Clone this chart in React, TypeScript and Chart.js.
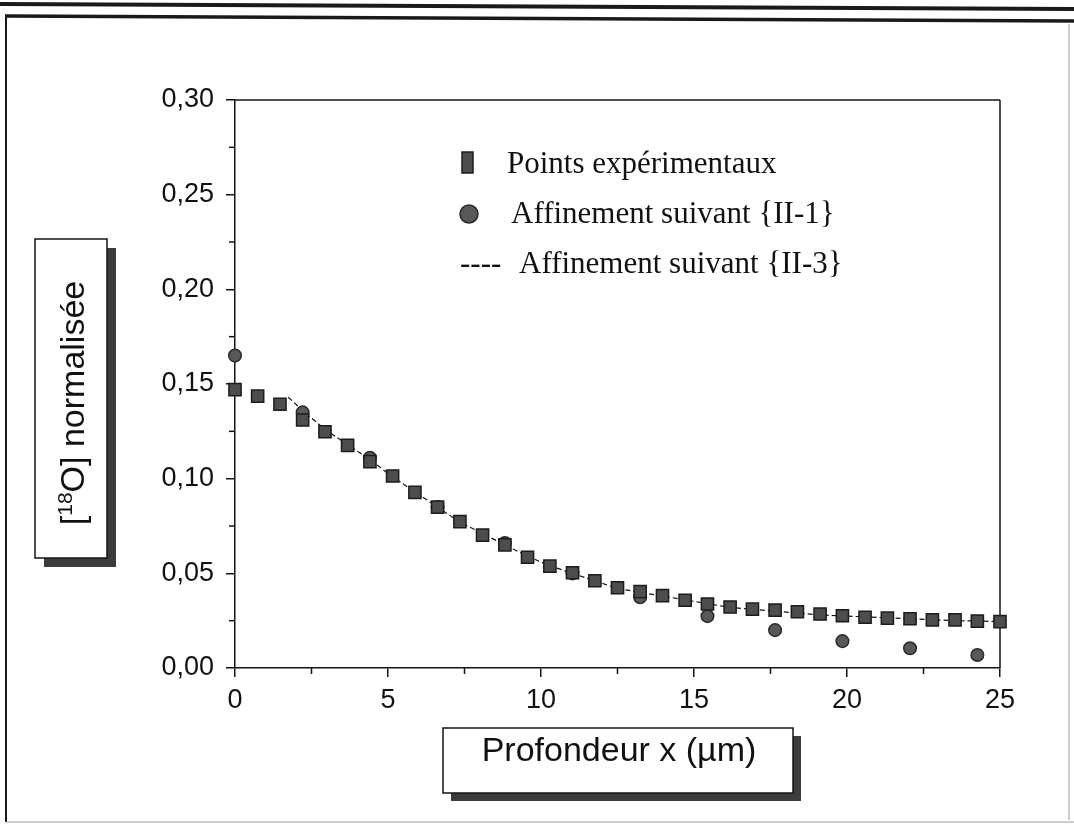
import React, { useEffect, useRef } from "react";
import { Chart, registerables } from "chart.js";

Chart.register(...registerables);

// ---------- data ----------
const depthExp = [
  0, 0.74, 1.47, 2.21, 2.94, 3.68, 4.41, 5.15, 5.88, 6.62, 7.35, 8.09, 8.82,
  9.56, 10.29, 11.03, 11.76, 12.5, 13.24, 13.97, 14.71, 15.44, 16.18, 16.91,
  17.65, 18.38, 19.12, 19.85, 20.59, 21.32, 22.06, 22.79, 23.53, 24.26, 25.0,
];
const expValues = [
  0.147, 0.1436, 0.1393, 0.131, 0.1248, 0.1176, 0.109, 0.1014, 0.0928, 0.085,
  0.0773, 0.0702, 0.065, 0.0585, 0.0538, 0.0503, 0.0461, 0.0424, 0.0403,
  0.0382, 0.0358, 0.0338, 0.0322, 0.0311, 0.0306, 0.0297, 0.0285, 0.0276,
  0.0268, 0.0263, 0.026, 0.0254, 0.0254, 0.0248, 0.0245,
];

const depthFit1 = [0, 2.21, 4.41, 6.62, 8.82, 11.03, 13.24, 15.44, 17.65, 19.85, 22.06, 24.26];
const fit1Values = [0.165, 0.135, 0.111, 0.085, 0.066, 0.05, 0.0374, 0.0274, 0.02, 0.0142, 0.0104, 0.0069];

const depthFit3 = [
  1.74, 2.21, 2.94, 3.68, 4.41, 5.15, 5.88, 6.62, 7.35, 8.09, 8.82, 9.56,
  10.29, 11.03, 11.76, 12.5, 13.24, 13.97, 14.71, 15.44, 16.18, 16.91, 17.65,
  18.38, 19.12, 19.85, 20.59, 21.32, 22.06, 22.79, 23.53, 24.26, 25.0,
];
const fit3Values = [
  0.143, 0.136, 0.126, 0.118, 0.11, 0.101, 0.093, 0.085, 0.077, 0.071, 0.065,
  0.059, 0.054, 0.05, 0.046, 0.042, 0.04, 0.038, 0.036, 0.034, 0.032, 0.031,
  0.03, 0.029, 0.028, 0.0275, 0.027, 0.0265, 0.026, 0.0255, 0.025, 0.0248,
  0.0245,
];

const xMinorTicks = [2.5, 7.5, 12.5, 17.5, 22.5];
const yMinorTicks = [0.025, 0.075, 0.125, 0.175, 0.225, 0.275];

const legendLabels = [
  "Points expérimentaux",
  "Affinement suivant {II-1}",
  "Affinement suivant {II-3}",
];
const xTitle = "Profondeur x (µm)";
const yTitleParts = ["[", "18", "O] normalisée"];

// ---------- styles ----------
const INK = "#141414";
const SQ_FILL = "#4d4d4d";
const SQ_BORDER = "#1c1c1c";
const CI_FILL = "#585858";
const CI_BORDER = "#2a2a2a";
const SHADOW = "#3c3c3c";

function line(ctx: CanvasRenderingContext2D, x1: number, y1: number, x2: number, y2: number) {
  ctx.beginPath();
  ctx.moveTo(x1, y1);
  ctx.lineTo(x2, y2);
  ctx.stroke();
}

function shadowBox(ctx: CanvasRenderingContext2D, x: number, y: number, w: number, h: number, off: number) {
  ctx.fillStyle = SHADOW;
  ctx.fillRect(x + off, y + off, w, h);
  ctx.fillStyle = "#fff";
  ctx.fillRect(x, y, w, h);
  ctx.strokeStyle = INK;
  ctx.lineWidth = 1.5;
  ctx.strokeRect(x, y, w, h);
}

const decorPlugin = {
  id: "decor",
  beforeDraw(chart: any) {
    const ctx: CanvasRenderingContext2D = chart.ctx;
    ctx.save();
    ctx.fillStyle = "#fff";
    ctx.fillRect(0, 0, chart.width, chart.height);
    ctx.strokeStyle = "#1a1a1a";
    ctx.lineWidth = 4;
    line(ctx, 0, 4, 1074, 9);
    ctx.lineWidth = 3.5;
    line(ctx, 5, 16, 1074, 21);
    ctx.lineWidth = 2;
    line(ctx, 6, 16, 6, 822);
    ctx.strokeStyle = "#9a9a9a";
    ctx.lineWidth = 1;
    line(ctx, 6, 822, 1074, 822);
    line(ctx, 1069, 24, 1069, 820);
    ctx.restore();
  },
  beforeDatasetsDraw(chart: any) {
    const ctx: CanvasRenderingContext2D = chart.ctx;
    const { left, top, right, bottom } = chart.chartArea;
    const xs = chart.scales.x;
    const ys = chart.scales.y;
    ctx.save();
    ctx.strokeStyle = INK;
    ctx.lineWidth = 1.5;
    line(ctx, left, top, right, top);
    line(ctx, right, top, right, bottom);
    for (const v of xMinorTicks) {
      const px = xs.getPixelForValue(v);
      line(ctx, px, bottom, px, bottom + 6);
    }
    for (const v of yMinorTicks) {
      const py = ys.getPixelForValue(v);
      line(ctx, left - 6, py, left, py);
    }
    ctx.restore();
  },
  afterDraw(chart: any) {
    const ctx: CanvasRenderingContext2D = chart.ctx;
    ctx.save();

    // legend
    ctx.font = "31px 'Liberation Serif', 'Times New Roman', serif";
    ctx.fillStyle = "#111";
    ctx.textBaseline = "alphabetic";
    ctx.textAlign = "left";
    // row 1: square marker
    ctx.fillStyle = SQ_FILL;
    ctx.fillRect(462, 152, 11, 21);
    ctx.strokeStyle = SQ_BORDER;
    ctx.lineWidth = 1.5;
    ctx.strokeRect(462, 152, 11, 21);
    ctx.fillStyle = "#111";
    ctx.fillText(legendLabels[0], 507, 173);
    // row 2: circle marker
    ctx.beginPath();
    ctx.arc(469, 214, 9, 0, Math.PI * 2);
    ctx.fillStyle = CI_FILL;
    ctx.fill();
    ctx.strokeStyle = CI_BORDER;
    ctx.stroke();
    ctx.fillStyle = "#111";
    ctx.fillText(legendLabels[1], 511, 223);
    // row 3: dashes
    ctx.fillText("----", 460, 273);
    ctx.fillText(legendLabels[2], 519, 273);

    // x title box
    shadowBox(ctx, 443, 728, 350, 65, 8);
    ctx.fillStyle = "#111";
    ctx.font = "34px 'Liberation Sans', Arial, sans-serif";
    ctx.textAlign = "center";
    ctx.textBaseline = "alphabetic";
    ctx.fillText(xTitle, 619, 761);

    // y title box
    shadowBox(ctx, 35, 239, 72, 319, 9);
    ctx.translate(72, 403);
    ctx.rotate(-Math.PI / 2);
    const big = "34px 'Liberation Sans', Arial, sans-serif";
    const small = "21px 'Liberation Sans', Arial, sans-serif";
    ctx.font = big;
    const w0 = ctx.measureText(yTitleParts[0]).width;
    const w2 = ctx.measureText(yTitleParts[2]).width;
    ctx.font = small;
    const w1 = ctx.measureText(yTitleParts[1]).width;
    const total = w0 + w1 + w2;
    let x = -total / 2;
    ctx.textAlign = "left";
    ctx.textBaseline = "alphabetic";
    ctx.fillStyle = "#111";
    const base = 12;
    ctx.font = big;
    ctx.fillText(yTitleParts[0], x, base);
    x += w0;
    ctx.font = small;
    ctx.fillText(yTitleParts[1], x, base - 12);
    x += w1;
    ctx.font = big;
    ctx.fillText(yTitleParts[2], x, base);

    ctx.restore();
  },
};

export default function App() {
  const canvasRef = useRef<HTMLCanvasElement | null>(null);

  useEffect(() => {
    if (!canvasRef.current) return;
    const tickFont = { family: "'Liberation Sans', Arial, sans-serif", size: 27 };
    const chart = new Chart(canvasRef.current, {
      type: "scatter",
      data: {
        datasets: [
          {
            label: legendLabels[0],
            data: depthExp.map((x, i) => ({ x, y: expValues[i] })),
            pointStyle: "rect",
            pointRadius: 8.6,
            backgroundColor: SQ_FILL,
            borderColor: SQ_BORDER,
            borderWidth: 1.5,
            order: 0,
            clip: false,
          },
          {
            label: legendLabels[1],
            data: depthFit1.map((x, i) => ({ x, y: fit1Values[i] })),
            pointStyle: "circle",
            pointRadius: 6.3,
            backgroundColor: CI_FILL,
            borderColor: CI_BORDER,
            borderWidth: 1.5,
            order: 1,
            clip: false,
          },
          {
            label: legendLabels[2],
            data: depthFit3.map((x, i) => ({ x, y: fit3Values[i] })),
            showLine: true,
            pointRadius: 0,
            borderColor: "#111",
            borderWidth: 1.2,
            borderDash: [5, 3],
            order: 2,
            clip: false,
          },
        ],
      },
      options: {
        animation: false,
        responsive: true,
        maintainAspectRatio: false,
        layout: { padding: { left: 0, top: 100, right: 74, bottom: 0 } },
        plugins: {
          legend: { display: false },
          tooltip: { enabled: false },
        },
        scales: {
          x: {
            type: "linear",
            min: 0,
            max: 25,
            ticks: {
              stepSize: 5,
              font: tickFont,
              color: "#111",
              padding: 7,
              callback: (v: any) => String(v),
            },
            grid: {
              display: true,
              drawOnChartArea: false,
              drawTicks: true,
              tickLength: 9,
              color: INK,
              lineWidth: 1.5,
            },
            border: { display: true, color: INK, width: 1.5 },
            afterFit: (s: any) => {
              s.height = 157;
            },
          },
          y: {
            type: "linear",
            min: 0,
            max: 0.3,
            ticks: {
              stepSize: 0.05,
              font: tickFont,
              color: "#111",
              padding: 12,
              callback: (v: any) => Number(v).toFixed(2).replace(".", ","),
            },
            grid: {
              display: true,
              drawOnChartArea: false,
              drawTicks: true,
              tickLength: 9,
              color: INK,
              lineWidth: 1.5,
            },
            border: { display: true, color: INK, width: 1.5 },
            afterFit: (s: any) => {
              s.width = 235;
            },
          },
        },
      },
      plugins: [decorPlugin],
    });
    return () => chart.destroy();
  }, []);

  return (
    <div
      style={{
        position: "absolute",
        left: 0,
        top: 0,
        width: 1074,
        height: 825,
        background: "#fff",
      }}
    >
      <canvas ref={canvasRef} />
    </div>
  );
}
